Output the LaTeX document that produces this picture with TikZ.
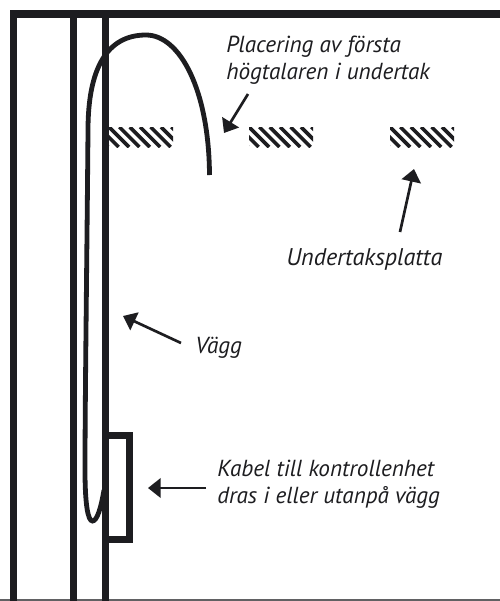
\documentclass[tikz,border=0pt]{standalone}
\usepackage{fontspec}
\setmainfont{PT Sans}
\usetikzlibrary{arrows.meta}
\definecolor{ink}{HTML}{1D1D20}
\tikzset{
  wall/.style={draw=ink,line width=5.4pt},
  cable/.style={draw=ink,line width=3.6pt},
  arrowline/.style={draw=ink,line width=2pt,-{Triangle[length=9.5pt,width=14.5pt,fill=ink]}},
  lbl/.style={font=\itshape\fontsize{17.4pt}{20pt}\selectfont,text=ink,align=left,inner sep=0pt},
  stripe/.style={draw=ink,line width=2.7pt}
}
\newcommand{\hatchat}[1]{%
  \begin{scope}[shift={(#1,127)}]
    \clip (0,0) rectangle (64,20);
    \foreach \i in {-2,...,6}{\draw[stripe] (\i*10.4,0) -- ++(20,20);}
  \end{scope}}
\begin{document}
\begin{tikzpicture}[x=0.75pt,y=-0.75pt]
\useasboundingbox (0,0) rectangle (500,601);
\fill[white] (0,0) rectangle (500,601);
\draw[draw=ink!70,line width=1pt] (0,600) -- (500,600);
\hatchat{109}\hatchat{249}\hatchat{390}
\draw[wall] (13.5,601) -- (13.5,14) -- (500,14);
\draw[wall] (73.5,14) -- (73.5,601);
\draw[wall] (105.5,14) -- (105.5,601);
\draw[wall] (105.5,435.5) -- (129.5,435.5) -- (129.5,539.5) -- (105.5,539.5);
\draw[cable] (209.5,175) .. controls (209,90) and (180,35) .. (146,35)
  .. controls (106,35) and (88,70) .. (88,130)
  .. controls (87,250) and (85,400) .. (85,470)
  .. controls (85,505) and (88,521) .. (92.5,521)
  .. controls (97,521) and (101,508) .. (104,490);
\node[lbl,anchor=west] (placering) at (226,60.5) {Placering av första\\högtalaren i undertak};
\node[lbl,anchor=base west,font=\itshape\fontsize{18.1pt}{20pt}\selectfont] (platta) at (286,265) {Undertaksplatta};
\node[lbl,anchor=base west] (vagg) at (195,353) {Vägg};
\node[lbl,anchor=west] (kabel) at (217,484) {Kabel till kontrollenhet\\dras i eller utanpå vägg};
\coordinate (t1) at (224,133);
\coordinate (s1) at (248,94);
\coordinate (t2) at (414,169);
\coordinate (s2) at (400,232);
\coordinate (t3) at (123,316);
\coordinate (s3) at (181,343);
\coordinate (t4) at (148,488);
\coordinate (s4) at (206,488);
\draw[arrowline] (s1) -- (t1);
\draw[arrowline] (s2) -- (t2);
\draw[arrowline] (s3) -- (t3);
\draw[arrowline] (s4) -- (t4);
\end{tikzpicture}
\end{document}
